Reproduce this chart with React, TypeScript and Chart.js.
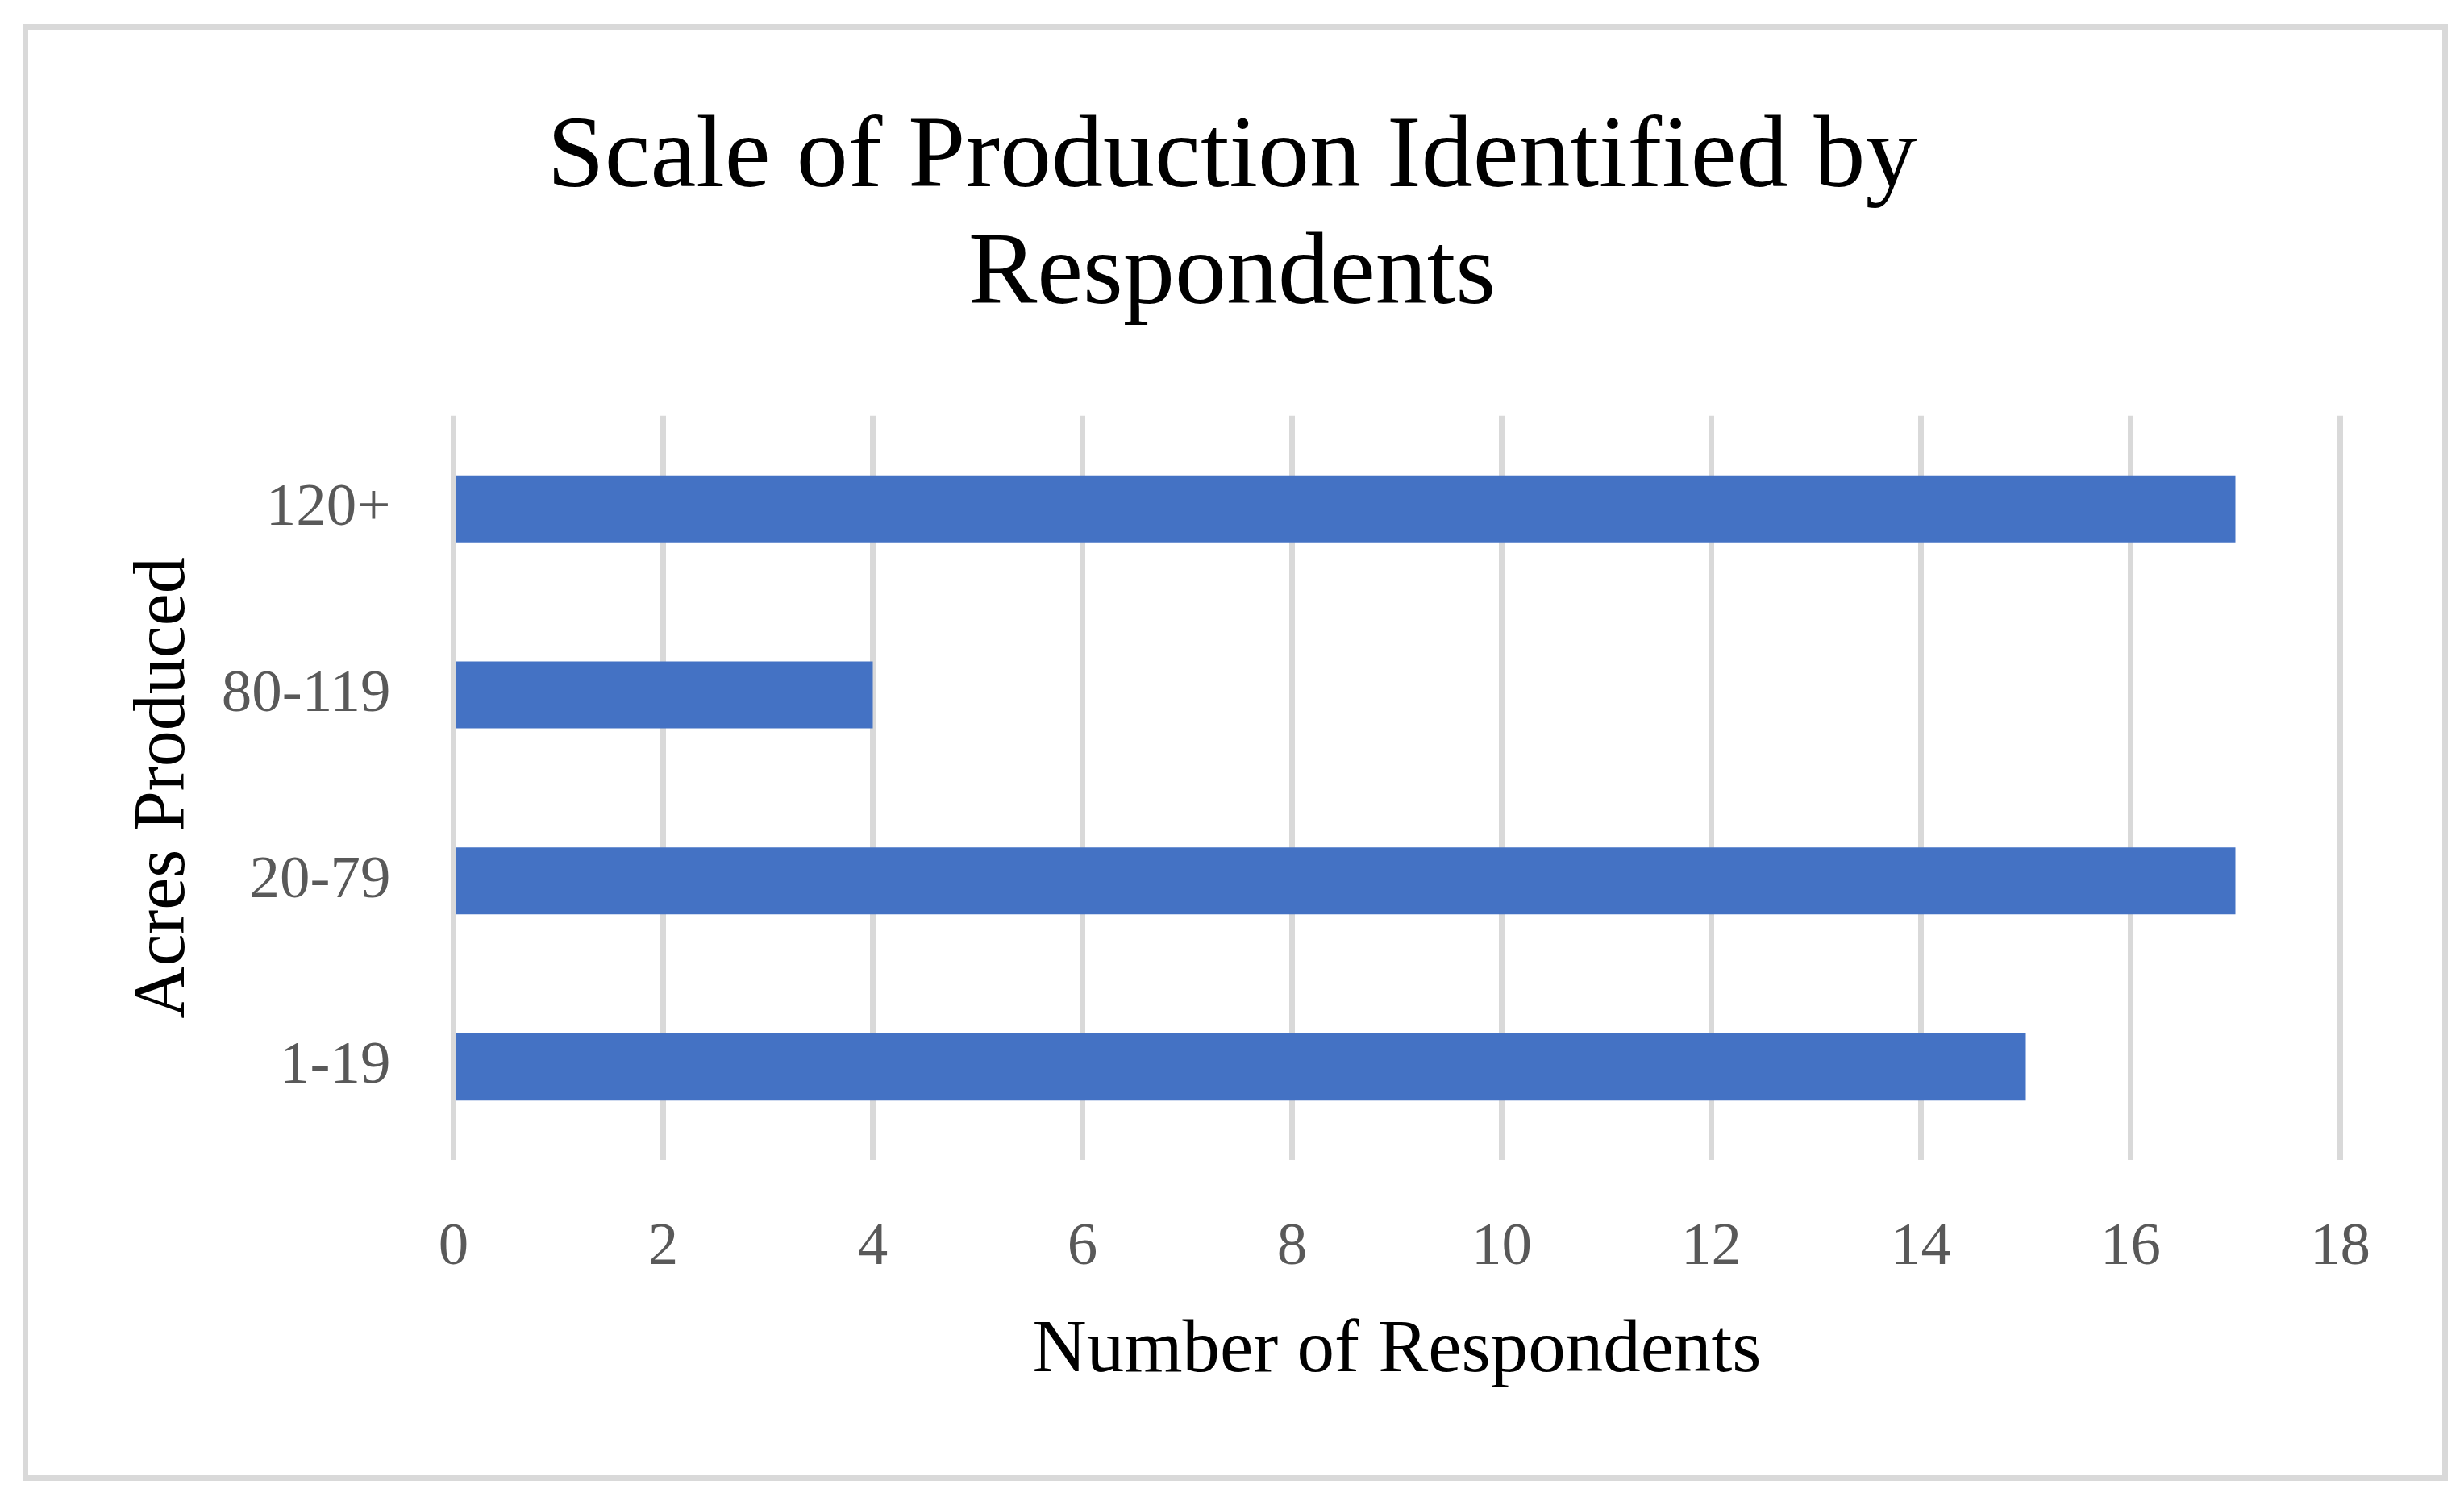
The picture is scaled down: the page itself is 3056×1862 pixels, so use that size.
import React, { useEffect, useRef } from "react";
import { Chart, registerables } from "chart.js";

Chart.register(...registerables);

// ---- Data ----
const categories: string[] = ["120+", "80-119", "20-79", "1-19"];
const respondents: number[] = [17, 4, 17, 15];
const titleLines: string[] = ["Scale of Production Identified by", "Respondents"];
const xAxisTitle = "Number of Respondents";
const yAxisTitle = "Acres Produced";
const xMin = 0;
const xMax = 18;
const xStep = 2;

const FONT = "'Liberation Serif', 'Times New Roman', serif";

const borderPlugin = {
  id: "outerBorder",
  beforeDraw(chart: any) {
    const ctx = chart.ctx;
    ctx.save();
    ctx.fillStyle = "#ffffff";
    ctx.fillRect(0, 0, chart.width, chart.height);
    ctx.strokeStyle = "#d9d9d9";
    ctx.lineWidth = 7;
    ctx.strokeRect(31.5, 33.5, 3001, 1800);
    ctx.restore();
  },
};

export default function App() {
  const canvasRef = useRef<HTMLCanvasElement | null>(null);

  useEffect(() => {
    if (!canvasRef.current) return;
    const chart = new Chart(canvasRef.current, {
      type: "bar",
      data: {
        labels: categories,
        datasets: [
          {
            data: respondents,
            backgroundColor: "#4472C4",
            borderWidth: 0,
            categoryPercentage: 0.6,
            barPercentage: 0.6,
          },
        ],
      },
      plugins: [borderPlugin],
      options: {
        indexAxis: "y",
        responsive: false,
        animation: false,
        devicePixelRatio: 1,
        layout: { padding: { left: 0, right: 0, top: 0, bottom: 0 } },
        plugins: {
          legend: { display: false },
          tooltip: { enabled: false },
          title: {
            display: true,
            text: titleLines,
            color: "#000000",
            font: { family: FONT, size: 128, weight: "normal", lineHeight: 1.14 },
            padding: { top: 124, bottom: 100 },
          },
        },
        scales: {
          x: {
            type: "linear",
            min: xMin,
            max: xMax,
            ticks: {
              stepSize: xStep,
              color: "#595959",
              font: { family: FONT, size: 75 },
              padding: 64,
            },
            grid: { color: "#d9d9d9", lineWidth: 7, drawTicks: false },
            border: { display: false },
            title: {
              display: true,
              text: xAxisTitle,
              color: "#000000",
              font: { family: FONT, size: 93 },
              padding: { top: 0, bottom: 130 },
            },
            afterFit: (scale: any) => {
              scale.height = 423;
            },
          },
          y: {
            ticks: {
              color: "#595959",
              font: { family: FONT, size: 75 },
              padding: 70,
            },
            grid: { display: false },
            border: { display: false },
            title: {
              display: true,
              text: yAxisTitle,
              color: "#000000",
              font: { family: FONT, size: 90 },
              padding: { top: 150, bottom: 0 },
            },
            afterFit: (scale: any) => {
              scale.width = 562.5;
            },
          },
          ySpacer: {
            type: "category",
            position: "right",
            display: true,
            grid: { display: false },
            border: { display: false },
            ticks: { display: false },
            afterFit: (scale: any) => {
              scale.width = 153.5;
            },
          },
        },
      } as any,
    });
    return () => chart.destroy();
  }, []);

  return (
    <div
      style={{
        position: "absolute",
        left: 0,
        top: 0,
        width: 3056,
        height: 1862,
        overflow: "hidden",
        background: "#ffffff",
      }}
    >
      <canvas
        ref={canvasRef}
        width={3056}
        height={1862}
        style={{ width: 3056, height: 1862, display: "block" }}
      />
    </div>
  );
}
